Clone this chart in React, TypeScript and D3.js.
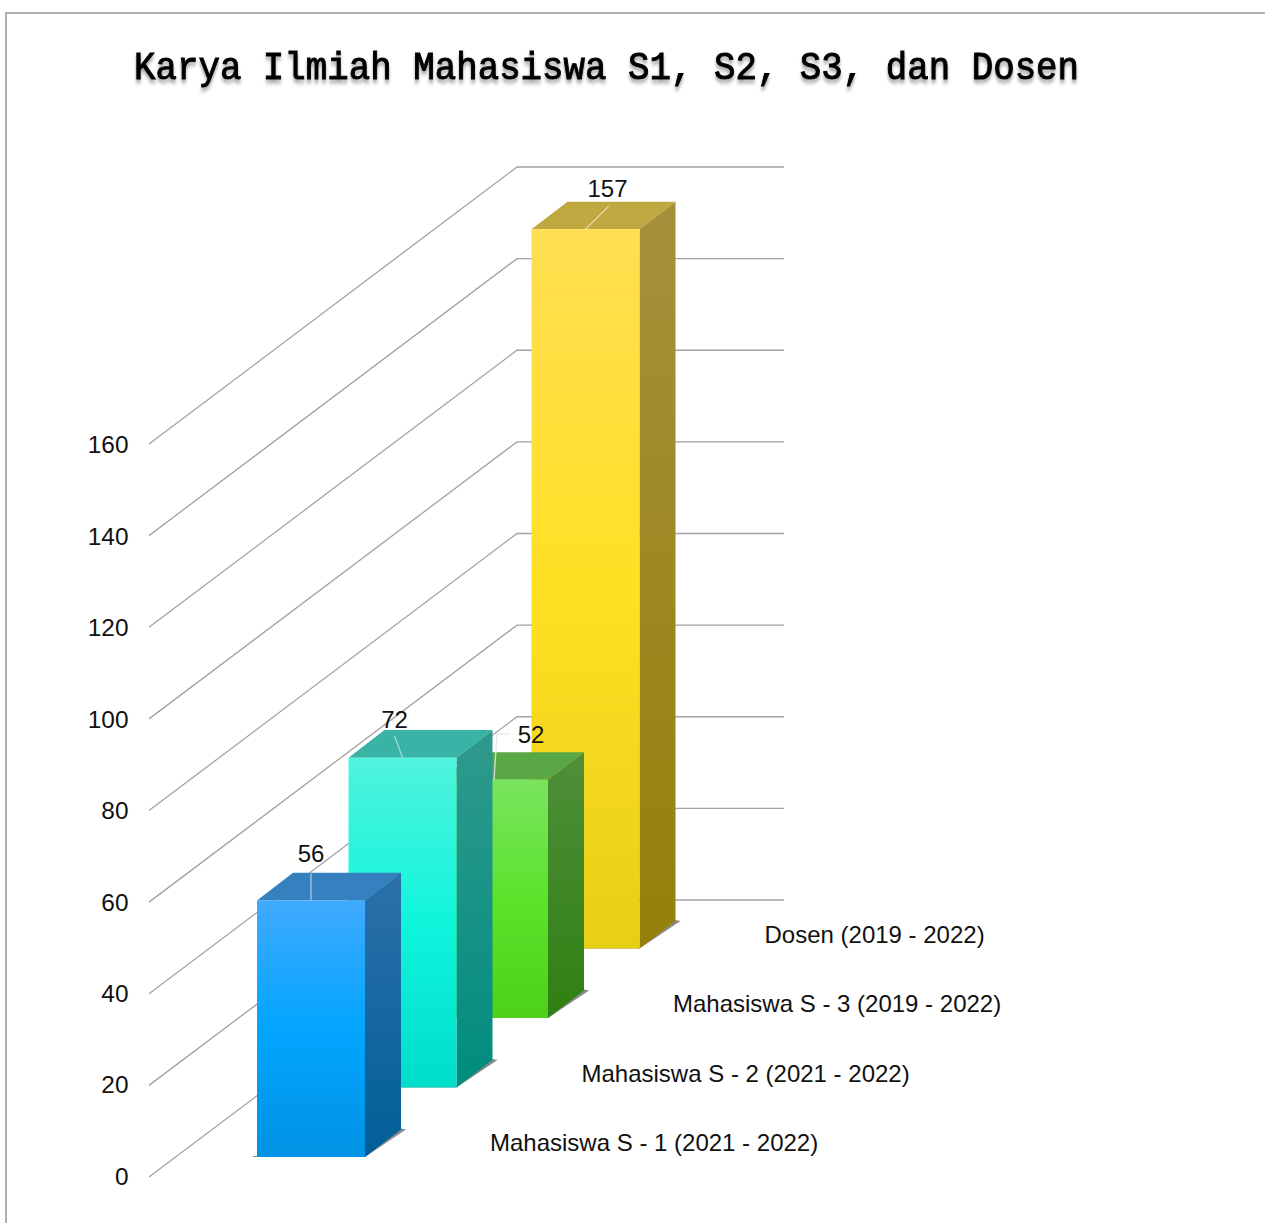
import * as d3 from "d3";
import { useEffect, useRef } from "react";

const categories = [
  "Mahasiswa S - 1 (2021 - 2022)",
  "Mahasiswa S - 2 (2021 - 2022)",
  "Mahasiswa S - 3 (2019 - 2022)",
  "Dosen (2019 - 2022)",
];
const values = [56, 72, 52, 157];
const yTicks = [0, 20, 40, 60, 80, 100, 120, 140, 160];
const titleText = "Karya Ilmiah Mahasiswa S1, S2, S3, dan Dosen";

const frontColors = [
  ["#40aaff", "#02a5ff", "#0092e4"],
  ["#50f3dd", "#0ff5dc", "#00dcc9"],
  ["#79e45e", "#5ce32c", "#4dd11b"],
  ["#ffde52", "#ffe023", "#e7cf16"],
];
const topColors = ["#3680c0", "#38b3a5", "#5aa845", "#c0a840"];
const sideColors = [
  ["#2d70aa", "#005f97"],
  ["#2f9a8d", "#008c7e"],
  ["#4f8f3a", "#2f8012"],
  ["#a6903c", "#948009"],
];

const barWidth = 108;
const depthX = 36;
const depthY = 27.6;

export default function App() {
  const ref = useRef(null);

  useEffect(() => {
    const svg = d3.select(ref.current);
    svg.selectAll("*").remove();

    const valueHeight = d3.scaleLinear().domain([0, 160]).range([0, 733]);
    const frontY = d3.scaleLinear().domain([0, 160]).range([1177, 444]);
    const backY = d3.scaleLinear().domain([0, 160]).range([900, 167]);
    const labelY = d3.scaleLinear().domain([0, 160]).range([1177.5, 446]);
    const barX = d3.scalePoint().domain(categories).range([257, 531.5]);
    const barBase = d3.scalePoint().domain(categories).range([1157, 948.5]);

    const defs = svg.append("defs");
    const filter = defs.append("filter").attr("id", "titleShadow").attr("x", "-5%").attr("y", "-30%").attr("width", "110%").attr("height", "170%");
    filter.append("feDropShadow").attr("dx", 0).attr("dy", 3).attr("stdDeviation", 1.8).attr("flood-color", "#000").attr("flood-opacity", 0.4);

    categories.forEach((c, i) => {
      const fg = defs.append("linearGradient").attr("id", `front${i}`).attr("x1", 0).attr("y1", 0).attr("x2", 0).attr("y2", 1);
      frontColors[i].forEach((col, k) => fg.append("stop").attr("offset", k / 2).attr("stop-color", col));
      const sg = defs.append("linearGradient").attr("id", `side${i}`).attr("x1", 0).attr("y1", 0).attr("x2", 0).attr("y2", 1);
      sideColors[i].forEach((col, k) => sg.append("stop").attr("offset", k).attr("stop-color", col));
    });

    // frame
    svg.append("path").attr("d", "M6,1223V13H1265").attr("fill", "none").attr("stroke", "#b0b0b0").attr("stroke-width", 2);

    // title is a taller, thinner mono than anything installed, so stretch it a bit
    svg.append("text")
      .attr("transform", "translate(134,79) scale(1,1.1)")
      .attr("font-family", "'Liberation Mono', monospace")
      .attr("font-size", 35.8)
      .attr("fill", "#000")
      .attr("stroke", "#000")
      .attr("stroke-width", 0.9)
      .attr("filter", "url(#titleShadow)")
      .text(titleText);

    // grid, running back along the floor wall
    const gridLine = d3.line();
    svg.append("g").selectAll("path").data(yTicks).join("path")
      .attr("d", d => gridLine([[149, frontY(d)], [517, backY(d)], [784, backY(d)]]))
      .attr("fill", "none").attr("stroke", "#a2a2a2").attr("stroke-width", 1.3);

    const axis = svg.append("g")
      .attr("transform", "translate(128.5,-1)")
      .call(d3.axisLeft(labelY).tickValues(yTicks).tickSize(0).tickPadding(0));
    axis.select(".domain").remove();
    axis.selectAll("text")
      .attr("font-family", "'Liberation Sans', Arial, sans-serif")
      .attr("font-size", 24.4)
      .attr("fill", "#111");

    // bars, back to front
    const order = d3.range(categories.length).reverse();
    order.forEach(i => {
      const c = categories[i];
      const x = barX(c);
      const base = barBase(c);
      const top = base - valueHeight(values[i]);
      const g = svg.append("g");
      const poly = d3.line();

      // floor shadow
      g.append("path")
        .attr("d", poly([[x - 4, base], [x + barWidth, base], [x + barWidth + depthX + 5, base - depthY], [x + barWidth + depthX, base - depthY - 1], [x + barWidth, base - 2], [x - 4, base - 1]]))
        .attr("fill", "#8a8a8a");

      g.append("path")
        .attr("d", poly([[x, top], [x + depthX, top - depthY], [x + barWidth + depthX, top - depthY], [x + barWidth, top]]) + "Z")
        .attr("fill", topColors[i]);
      g.append("path")
        .attr("d", poly([[x + barWidth, top], [x + barWidth + depthX, top - depthY], [x + barWidth + depthX, base - depthY], [x + barWidth, base]]) + "Z")
        .attr("fill", `url(#side${i})`);
      g.append("rect")
        .attr("x", x).attr("y", top)
        .attr("width", barWidth).attr("height", base - top)
        .attr("fill", `url(#front${i})`);
    });

    // data labels with their leaders, offsets are from the middle of the bar's top edge
    const leaders = [
      [[0, 0], [0, -27]],
      [[0, 0], [-8, -22]],
      [[0, 0], [3, -46], [16, -46]],
      [[0, 0], [23, -23]],
    ];
    const labelOffset = [[0, -38], [-8, -30], [37, -37], [22, -32]];
    values.forEach((v, i) => {
      const c = categories[i];
      const x = barX(c) + barWidth / 2;
      const top = barBase(c) - valueHeight(v);
      svg.append("path")
        .attr("d", d3.line()(leaders[i].map(p => [x + p[0], top + p[1]])))
        .attr("fill", "none")
        .attr("stroke", i === 2 ? "#e6e6e6" : "#fff").attr("stroke-opacity", i === 2 ? 0.9 : 0.55).attr("stroke-width", 1.3);
      svg.append("text")
        .attr("x", x + labelOffset[i][0]).attr("y", top + labelOffset[i][1])
        .attr("text-anchor", "middle")
        .attr("font-family", "'Liberation Sans', Arial, sans-serif")
        .attr("font-size", 24)
        .attr("fill", "#111")
        .text(v);
    });

    // category labels along the floor
    svg.append("g").selectAll("text").data(categories).join("text")
      .attr("x", d => barX(d) + 233)
      .attr("y", d => barBase(d) - 6)
      .attr("font-family", "'Liberation Sans', Arial, sans-serif")
      .attr("font-size", 24)
      .attr("fill", "#111")
      .text(d => d);
  }, []);

  return (
    <div style={{ position: "absolute", left: 0, top: 0 }}>
      <svg ref={ref} width={1265} height={1223} style={{ display: "block" }}></svg>
    </div>
  );
}
